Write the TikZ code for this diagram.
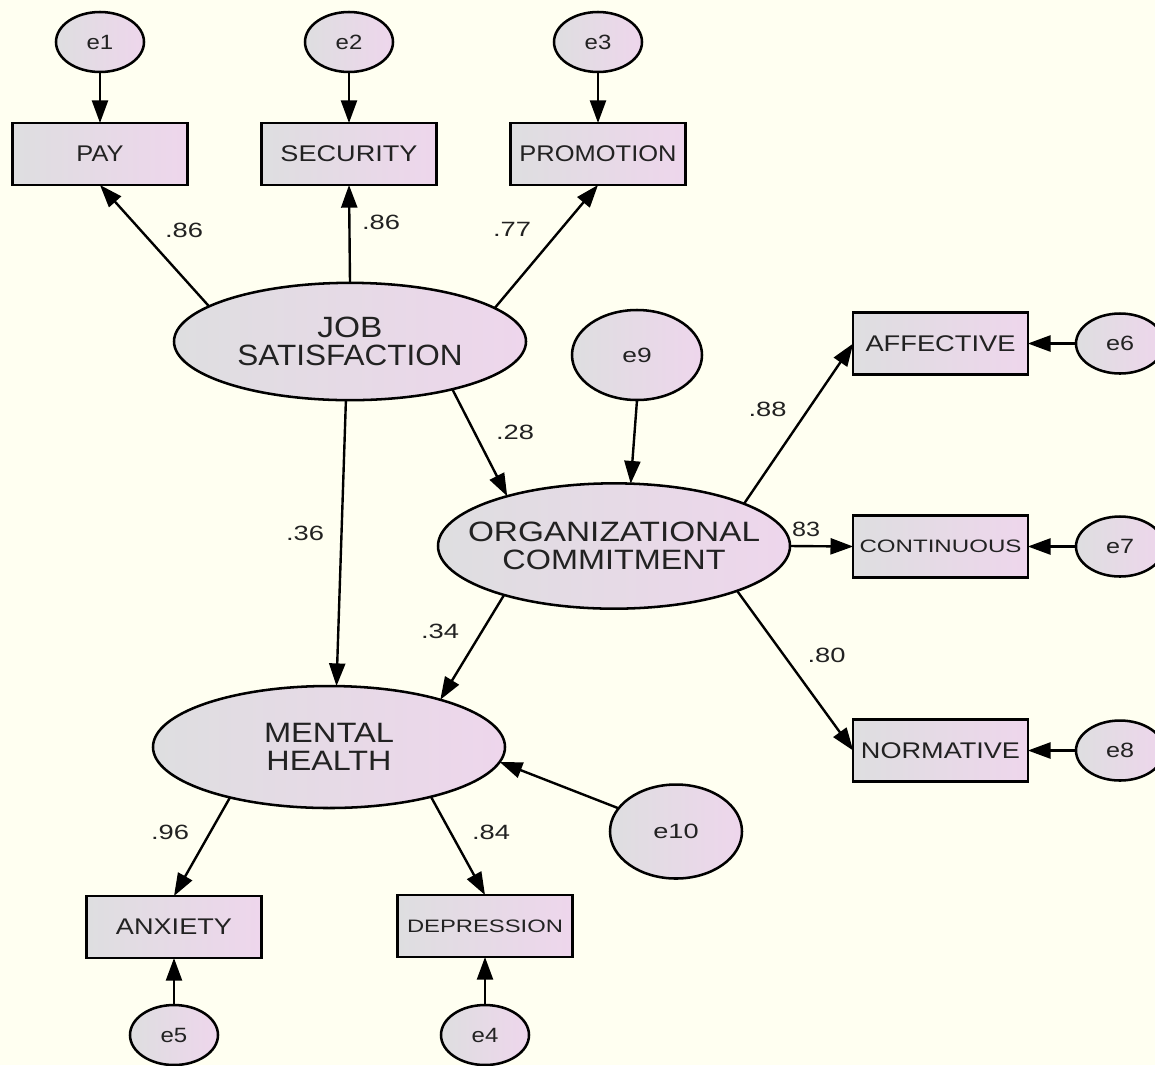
\documentclass[tikz,border=0pt]{standalone}
\usepackage{fontspec}
\setmainfont{Liberation Sans}
\usetikzlibrary{arrows.meta,shapes.geometric}
\definecolor{bgc}{RGB}{255,255,241}
\definecolor{fl}{RGB}{222,222,224}
\definecolor{fr}{RGB}{238,214,236}
\definecolor{txt}{RGB}{34,34,34}
\newcommand{\wt}[2]{\resizebox{#1}{\height}{#2}}
\newcommand{\zw}[2]{\makebox[0pt][c]{\resizebox{#1}{\height}{#2}}}
\begin{document}
\begin{tikzpicture}[x=0.75pt,y=-0.75pt,
  shd/.style={draw, line width=1.9pt, left color=fl, right color=fr, inner sep=0pt, outer sep=0pt, text=txt},
  err/.style={shd, ellipse, minimum width=66pt, minimum height=45pt, font=\fontsize{15.5pt}{15.5pt}\selectfont},
  obs/.style={shd, rectangle, minimum width=131pt, minimum height=46.5pt, font=\fontsize{17pt}{17pt}\selectfont},
  lat/.style={shd, ellipse, minimum width=264pt, minimum height=88pt, align=center, font=\fontsize{21pt}{20.5pt}\selectfont},
  arr/.style={line width=1.8pt, -{Triangle[length=17pt,width=12pt]}},
  coef/.style={inner sep=0pt, text=txt, font=\fontsize{15.5pt}{15.5pt}\selectfont}]
\fill[bgc] (0,0) rectangle (1155,1065);
\useasboundingbox (0,0) rectangle (1155,1065);
% error terms (top)
\node[err] (e1) at (100,42) {\wt{20pt}{e1}};
\node[err] (e2) at (349,42) {\wt{20pt}{e2}};
\node[err] (e3) at (598,42) {\wt{20pt}{e3}};
% observed top
\node[obs] (pay) at (100,154) {\wt{35.3pt}{PAY}};
\node[obs] (sec) at (349,154) {\wt{102.8pt}{SECURITY}};
\node[obs] (pro) at (598,154) {\wt{117.8pt}{PROMOTION}};
% latent
\node[lat, font=\fontsize{22pt}{20.5pt}\selectfont] (js) at (350,341.5) {\zw{48.8pt}{JOB}\\\zw{168.8pt}{SATISFACTION}};
\node[lat, minimum height=94pt] (oc) at (614,546) {\zw{219pt}{ORGANIZATIONAL}\\\zw{167.3pt}{COMMITMENT}};
\node[lat, minimum height=91.5pt] (mh) at (329,747) {\zw{97.5pt}{MENTAL}\\\zw{93.8pt}{HEALTH}};
\node[err, minimum width=97.5pt, minimum height=67.5pt] (e9) at (637,355) {\wt{22pt}{e9}};
\node[err, minimum width=99pt, minimum height=70.5pt] (e10) at (676,831.5) {\wt{34pt}{e10}};
% observed right
\node[obs] (aff) at (940.5,343.5) {\wt{112.5pt}{AFFECTIVE}};
\node[obs, font=\fontsize{13.5pt}{13.5pt}\selectfont] (con) at (940.5,546.5) {\wt{121.5pt}{CONTINUOUS}};
\node[obs] (nor) at (940.5,750.5) {\wt{119.3pt}{NORMATIVE}};
\node[err] (e6) at (1120,343.5) {\wt{21pt}{e6}};
\node[err] (e7) at (1120,546.5) {\wt{21pt}{e7}};
\node[err] (e8) at (1120,750.5) {\wt{21pt}{e8}};
% observed bottom
\node[obs] (anx) at (174,927) {\wt{87pt}{ANXIETY}};
\node[obs, font=\fontsize{13.5pt}{13.5pt}\selectfont] (dep) at (485,926) {\wt{117pt}{DEPRESSION}};
\node[err] (e5) at (174,1035) {\wt{20pt}{e5}};
\node[err] (e4) at (485,1035) {\wt{20pt}{e4}};
% connectors
\draw[arr] (e1.south) -- (pay.north);
\draw[arr] (e2.south) -- (sec.north);
\draw[arr] (e3.south) -- (pro.north);
\draw[arr] (js.166.5) -- (pay.south);
\draw[arr] (js.north) -- (sec.south);
\draw[arr] (js.13.5) -- (pro.south);
\draw[arr] (js.-25) -- (oc.155.4);
\draw[arr] (js.-94) -- (mh.83.5);
\draw[arr] (e9.south) -- (oc.75);
\draw[arr] (oc.18.8) -- (aff.west);
\draw[arr] (oc.east) -- (con.west);
\draw[arr] (oc.-20) -- (nor.west);
\draw[arr] (oc.-156.5) -- (mh.23.4);
\draw[arr] (e10.158.7) -- (mh.-5.3);
\draw[arr] (mh.-153.7) -- (anx.north);
\draw[arr] (mh.-26) -- (dep.north);
\draw[arr] (e5.north) -- (anx.south);
\draw[arr] (e4.north) -- (dep.south);
\draw[arr] (e6.west) -- (aff.east);
\draw[arr] (e7.west) -- (con.east);
\draw[arr] (e8.west) -- (nor.east);
% coefficients
\node[coef] (c1) at (184,230.5) {\wt{28.5pt}{.86}};
\node[coef] (c2) at (381,222) {\wt{28.5pt}{.86}};
\node[coef] (c3) at (512,229) {\wt{28.5pt}{.77}};
\node[coef] (c4) at (515,432) {\wt{28.5pt}{.28}};
\node[coef] (c5) at (305,533) {\wt{28.5pt}{.36}};
\node[coef] (c6) at (767.5,409.5) {\wt{28.5pt}{.88}};
\node[coef] (c7) at (806,529) {\wt{21pt}{83}};
\node[coef] (c8) at (826.5,655.5) {\wt{28.5pt}{.80}};
\node[coef] (c9) at (440,631) {\wt{28.5pt}{.34}};
\node[coef] (c10) at (170,832.5) {\wt{28.5pt}{.96}};
\node[coef] (c11) at (491,832.5) {\wt{28.5pt}{.84}};
\end{tikzpicture}
\end{document}
